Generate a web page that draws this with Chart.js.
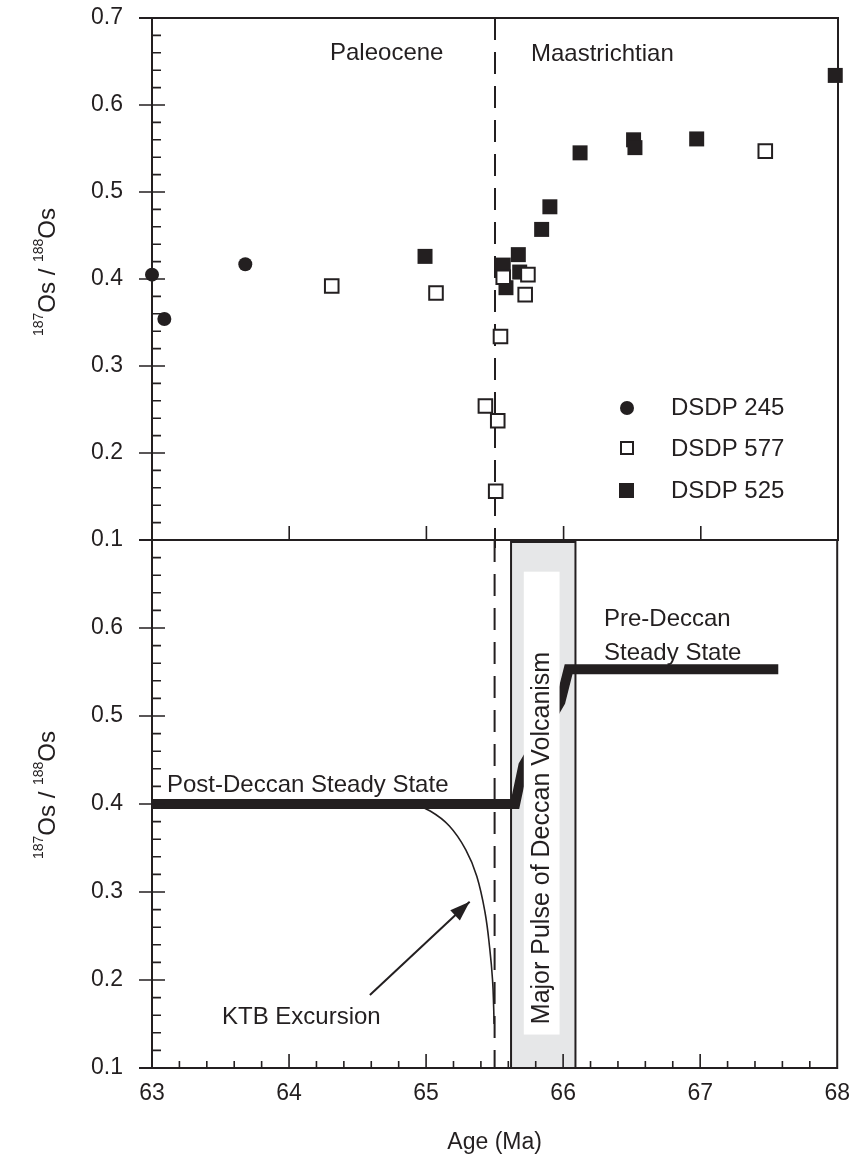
<!DOCTYPE html>
<html><head><meta charset="utf-8">
<script src="https://cdn.jsdelivr.net/npm/chart.js@4.4.1/dist/chart.umd.min.js"></script>
<style>
html,body{margin:0;padding:0;background:#fff;}
#wrap{position:relative;width:862px;height:1157px;background:#fff;}
#wrap canvas{position:absolute;left:0;top:0;}
</style></head><body>
<div id="wrap"><canvas id="topChart" width="862" height="1157"></canvas><canvas id="botChart" width="862" height="1157"></canvas></div>
<script>
// ---------------- data ----------------
const dsdp245Age = [63.00, 63.09, 63.68];
const dsdp245Os  = [0.405, 0.354, 0.417];
const dsdp577Age = [64.31, 65.07, 65.43, 65.52, 65.505, 65.54, 65.56, 65.72, 65.74, 67.47];
const dsdp577Os  = [0.392, 0.384, 0.254, 0.237, 0.156, 0.334, 0.402, 0.382, 0.405, 0.547];
const dsdp525Age = [64.99, 65.56, 65.58, 65.67, 65.68, 65.84, 65.90, 66.12, 66.51, 66.52, 66.97, 67.98];
const dsdp525Os  = [0.426, 0.416, 0.390, 0.428, 0.408, 0.457, 0.483, 0.545, 0.560, 0.551, 0.561, 0.634];

const steadyAge = [63.00, 65.65, 65.71, 65.98, 66.04, 67.57];
const steadyOs  = [0.400, 0.400, 0.444, 0.516, 0.553, 0.553];
const ktbCurveAge = [64.90, 65.03, 65.17, 65.29, 65.37, 65.43, 65.465, 65.485, 65.493, 65.496];
const ktbCurveOs  = [0.400, 0.392, 0.375, 0.348, 0.318, 0.277, 0.235, 0.200, 0.170, 0.150];
const arrowAge = [64.59, 65.318];
const arrowOs  = [0.183, 0.289];

const ktbBoundaryAge = 65.5;
const deccanPulseAge = [65.62, 66.09];

const xTickValues = [63, 64, 65, 66, 67, 68];
const xTickLabels = ['63', '64', '65', '66', '67', '68'];
const yTickValues = [0.1, 0.2, 0.3, 0.4, 0.5, 0.6, 0.7];
const topYLabels = ['0.1', '0.2', '0.3', '0.4', '0.5', '0.6', '0.7'];
const botYLabels = ['0.1', '0.2', '0.3', '0.4', '0.5', '0.6', ''];
const seriesNames = ['DSDP 245', 'DSDP 577', 'DSDP 525'];

// ---------------- styles ----------------
const INK = '#231f20';
const FONT = '"Liberation Sans", Arial, Helvetica, sans-serif';
const zip = (xs, ys) => xs.map((x, i) => ({x, y: ys[i]}));

function txt(ctx, s, x, y, size, align) {
  ctx.font = size + 'px ' + FONT;
  ctx.fillStyle = INK;
  ctx.textAlign = align || 'left';
  ctx.textBaseline = 'middle';
  ctx.fillText(s, x, y);
}

function osTitle(ctx, cx, cy) {
  ctx.save();
  ctx.translate(cx, cy);
  ctx.rotate(-Math.PI / 2);
  ctx.fillStyle = INK;
  ctx.textBaseline = 'alphabetic';
  ctx.textAlign = 'left';
  const parts = [['187', 14, -3], ['Os', 24, 8.5], [' / ', 24, 8.5], ['188', 14, -3], ['Os', 24, 8.5]];
  let total = 0;
  parts.forEach(p => { ctx.font = p[1] + 'px ' + FONT; total += ctx.measureText(p[0]).width; });
  let x = -total / 2;
  parts.forEach(p => { ctx.font = p[1] + 'px ' + FONT; ctx.fillText(p[0], x, p[2]); x += ctx.measureText(p[0]).width; });
  ctx.restore();
}

function drawFrame(chart, xMinor) {
  const ctx = chart.ctx;
  const {left, right, top, bottom} = chart.chartArea;
  const xs = chart.scales.x, ys = chart.scales.y;
  ctx.save();
  ctx.strokeStyle = INK;
  ctx.lineWidth = 2;
  ctx.beginPath();
  ctx.moveTo(left, top); ctx.lineTo(left, bottom);
  ctx.moveTo(left - 13, top); ctx.lineTo(right + 1, top);
  ctx.moveTo(right, top); ctx.lineTo(right, bottom);
  ctx.moveTo(left - 13, bottom); ctx.lineTo(right + 1, bottom);
  ctx.stroke();
  ctx.lineWidth = 1.6;
  ctx.beginPath();
  yTickValues.forEach(v => { const y = ys.getPixelForValue(v); ctx.moveTo(left - 13, y); ctx.lineTo(left + 13, y); });
  for (let i = 1; i < 30; i++) {
    if (i % 5 === 0) continue;
    const y = ys.getPixelForValue(0.1 + i * 0.02);
    ctx.moveTo(left, y); ctx.lineTo(left + 9, y);
  }
  xTickValues.slice(1, -1).forEach(v => { const x = xs.getPixelForValue(v); ctx.moveTo(x, bottom); ctx.lineTo(x, bottom - 14); });
  if (xMinor) {
    for (let i = 1; i < 25; i++) {
      if (i % 5 === 0) continue;
      const x = xs.getPixelForValue(63 + i * 0.2);
      ctx.moveTo(x, bottom); ctx.lineTo(x, bottom - 7);
    }
  }
  ctx.stroke();
  ctx.restore();
}

function drawBoundary(chart, extendBelow) {
  const ctx = chart.ctx;
  const {top, bottom} = chart.chartArea;
  const x = chart.scales.x.getPixelForValue(ktbBoundaryAge);
  ctx.save();
  ctx.strokeStyle = INK;
  ctx.lineWidth = 2;
  ctx.setLineDash([22, 12]);
  ctx.beginPath();
  ctx.moveTo(x, top); ctx.lineTo(x, bottom + (extendBelow || 0));
  ctx.stroke();
  ctx.restore();
}

const topPlugin = {
  id: 'topDecor',
  beforeDatasetsDraw(chart) { drawBoundary(chart, 8); },
  afterDraw(chart) {
    const ctx = chart.ctx;
    drawFrame(chart, false);
    ctx.save();
    txt(ctx, 'Paleocene', 330, 53, 24, 'left');
    txt(ctx, 'Maastrichtian', 531, 54, 24, 'left');
    // legend
    ctx.fillStyle = INK;
    ctx.beginPath(); ctx.arc(627, 408, 7, 0, Math.PI * 2); ctx.fill();
    ctx.fillStyle = '#fff'; ctx.strokeStyle = INK; ctx.lineWidth = 2;
    ctx.fillRect(621, 442, 12, 12); ctx.strokeRect(621, 442, 12, 12);
    ctx.fillStyle = INK; ctx.fillRect(619, 483, 15, 15);
    txt(ctx, seriesNames[0], 671, 408, 24, 'left');
    txt(ctx, seriesNames[1], 671, 449, 24, 'left');
    txt(ctx, seriesNames[2], 671, 491, 24, 'left');
    osTitle(ctx, 46, 272);
    ctx.restore();
  }
};

const botPlugin = {
  id: 'botDecor',
  beforeDatasetsDraw(chart) {
    const ctx = chart.ctx;
    const {top, bottom} = chart.chartArea;
    const xs = chart.scales.x;
    const x0 = xs.getPixelForValue(deccanPulseAge[0]), x1 = xs.getPixelForValue(deccanPulseAge[1]);
    ctx.save();
    ctx.fillStyle = '#e6e7e8';
    ctx.fillRect(x0, top, x1 - x0, bottom - top);
    ctx.strokeStyle = INK; ctx.lineWidth = 2;
    ctx.strokeRect(x0, top + 1, x1 - x0, bottom - top - 1);
    ctx.lineWidth = 3;
    ctx.beginPath(); ctx.moveTo(x0, top + 1.5); ctx.lineTo(x1, top + 1.5); ctx.stroke();
    ctx.restore();
    drawBoundary(chart, 0);
  },
  afterDatasetsDraw(chart) {
    const ctx = chart.ctx;
    const xs = chart.scales.x, ys = chart.scales.y;
    ctx.save();
    // white label box inside the volcanism band
    const bx0 = xs.getPixelForValue(65.713), bx1 = xs.getPixelForValue(65.974);
    const by0 = ys.getPixelForValue(0.664), by1 = ys.getPixelForValue(0.138);
    ctx.fillStyle = '#fff';
    ctx.fillRect(bx0, by0, bx1 - bx0, by1 - by0);
    ctx.translate((bx0 + bx1) / 2, 838);
    ctx.rotate(-Math.PI / 2);
    txt(ctx, 'Major Pulse of Deccan Volcanism', 0, 0, 25, 'center');
    ctx.restore();
    // arrow head
    const tx = xs.getPixelForValue(arrowAge[1]), ty = ys.getPixelForValue(arrowOs[1]);
    const sx = xs.getPixelForValue(arrowAge[0]), sy = ys.getPixelForValue(arrowOs[0]);
    const a = Math.atan2(ty - sy, tx - sx);
    ctx.save();
    ctx.translate(tx, ty); ctx.rotate(a);
    ctx.fillStyle = INK;
    ctx.beginPath(); ctx.moveTo(0, 0); ctx.lineTo(-20, -7); ctx.lineTo(-20, 7); ctx.closePath(); ctx.fill();
    ctx.restore();
  },
  afterDraw(chart) {
    const ctx = chart.ctx;
    drawFrame(chart, true);
    ctx.save();
    txt(ctx, 'Post-Deccan Steady State', 167, 785, 24, 'left');
    txt(ctx, 'Pre-Deccan', 604, 619, 24, 'left');
    txt(ctx, 'Steady State', 604, 653, 24, 'left');
    txt(ctx, 'KTB Excursion', 222, 1017, 24, 'left');
    osTitle(ctx, 46, 795);
    ctx.restore();
  }
};

const yScale = (labels) => ({
  type: 'linear', min: 0.1, max: 0.7,
  afterFit: s => { s.width = 152; },
  afterBuildTicks: s => { s.ticks = yTickValues.map(v => ({value: v})); },
  grid: {display: false, drawTicks: true, tickLength: 29},
  border: {display: false},
  ticks: {callback: (v, i) => labels[i], font: {family: FONT, size: 23}, color: INK, padding: 0, autoSkip: false}
});

new Chart(document.getElementById('topChart'), {
  type: 'scatter',
  data: {datasets: [
    {label: seriesNames[2], data: zip(dsdp525Age, dsdp525Os), pointStyle: 'rect', pointRadius: 10.6, backgroundColor: INK, borderWidth: 0, order: 2, clip: false},
    {label: seriesNames[0], data: zip(dsdp245Age, dsdp245Os), pointStyle: 'circle', pointRadius: 7, backgroundColor: INK, borderWidth: 0, order: 1, clip: false},
    {label: seriesNames[1], data: zip(dsdp577Age, dsdp577Os), pointStyle: 'rect', pointRadius: 9.6, backgroundColor: '#fff', borderColor: INK, borderWidth: 2, order: 0, clip: false}
  ]},
  options: {
    responsive: false, animation: false, devicePixelRatio: 1,
    layout: {padding: {left: 0, right: 24, top: 18, bottom: 617}},
    plugins: {legend: {display: false}, tooltip: {enabled: false}},
    scales: {
      x: {type: 'linear', min: 63, max: 68, display: false},
      y: yScale(topYLabels)
    },
    elements: {point: {hoverRadius: 0}}
  },
  plugins: [topPlugin]
});

new Chart(document.getElementById('botChart'), {
  type: 'line',
  data: {datasets: [
    {label: 'Steady state', data: zip(steadyAge, steadyOs), borderColor: INK, borderWidth: 10, pointRadius: 0, tension: 0, fill: false, borderJoinStyle: 'miter', borderCapStyle: 'butt'},
    {label: 'KTB excursion', data: zip(ktbCurveAge, ktbCurveOs), borderColor: INK, borderWidth: 1.6, pointRadius: 0, tension: 0.4, fill: false},
    {label: 'Arrow', data: zip(arrowAge, arrowOs), borderColor: INK, borderWidth: 2, pointRadius: 0, fill: false}
  ]},
  options: {
    responsive: false, animation: false, devicePixelRatio: 1,
    layout: {padding: {left: 0, right: 24, top: 540, bottom: 0}},
    plugins: {legend: {display: false}, tooltip: {enabled: false}},
    scales: {
      x: {
        type: 'linear', min: 63, max: 68,
        afterFit: s => { s.height = 89; },
        afterBuildTicks: s => { s.ticks = xTickValues.map(v => ({value: v})); },
        grid: {display: false, drawTicks: false},
        border: {display: false},
        ticks: {callback: (v, i) => xTickLabels[i], font: {family: FONT, size: 23}, color: INK, padding: 12, maxRotation: 0, autoSkip: false},
        title: {display: true, text: 'Age (Ma)', font: {family: FONT, size: 23}, color: INK, padding: {top: 0, bottom: 1}}
      },
      y: yScale(botYLabels)
    }
  },
  plugins: [botPlugin]
});
</script>
</body></html>
